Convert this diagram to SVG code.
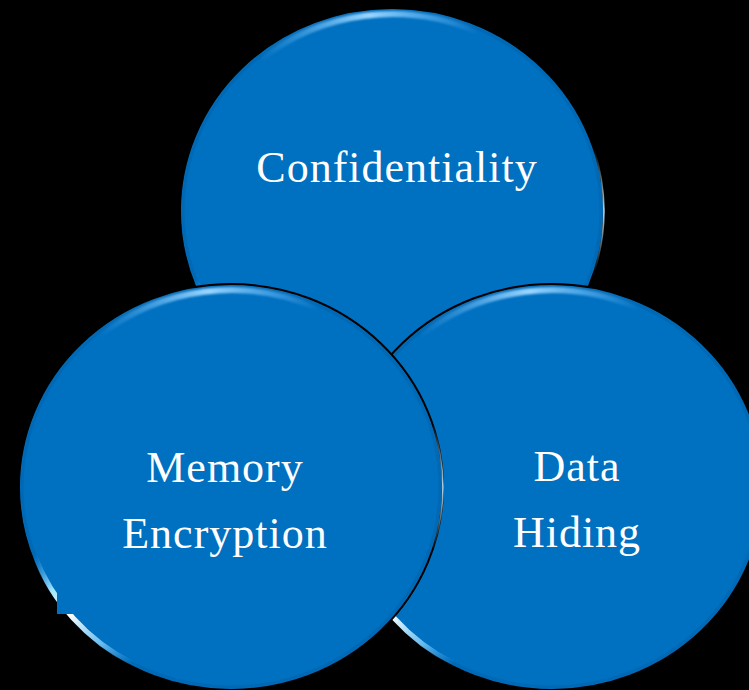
<svg xmlns="http://www.w3.org/2000/svg" width="749" height="690" viewBox="0 0 749 690">
  <style>
    .disc { fill: #0070C0; stroke: #000; stroke-width: 2; }
    .rim { fill: none; stroke: #0062aa; stroke-width: 3; opacity: 0.5; }
    .label { font-family: "Liberation Serif", "Times New Roman", serif; font-size: 44px; fill: #ffffff; text-anchor: middle; letter-spacing: 1px; }
  </style>
  <defs>
    <linearGradient id="topGlow" x1="0" y1="0" x2="1" y2="0">
      <stop offset="0" stop-color="#6fc0ff" stop-opacity="0"/>
      <stop offset="0.5" stop-color="#9ad6ff" stop-opacity="1"/>
      <stop offset="0.8" stop-color="#6fc0ff" stop-opacity="0.5"/>
      <stop offset="1" stop-color="#6fc0ff" stop-opacity="0"/>
    </linearGradient>
    <linearGradient id="glint" x1="0" y1="0" x2="1" y2="1">
      <stop offset="0" stop-color="#4ab4ff" stop-opacity="0"/>
      <stop offset="0.25" stop-color="#9fe4ff" stop-opacity="1"/>
      <stop offset="0.45" stop-color="#ffffff" stop-opacity="1"/>
      <stop offset="0.75" stop-color="#7fd0ff" stop-opacity="0.8"/>
      <stop offset="1" stop-color="#4ab4ff" stop-opacity="0"/>
    </linearGradient>
    <linearGradient id="sideGlow" x1="0" y1="0" x2="0" y2="1">
      <stop offset="0" stop-color="#cfefff" stop-opacity="0"/>
      <stop offset="0.5" stop-color="#cfefff" stop-opacity="0.9"/>
      <stop offset="1" stop-color="#cfefff" stop-opacity="0"/>
    </linearGradient>
    <filter id="soft" x="-20%" y="-20%" width="140%" height="140%">
      <feGaussianBlur stdDeviation="1.2"/>
    </filter>
    <filter id="softer" x="-20%" y="-20%" width="140%" height="140%">
      <feGaussianBlur stdDeviation="0.5"/>
    </filter>
    <g id="bubble">
      <ellipse class="disc" cx="0" cy="0" rx="212" ry="203"/>
      <ellipse class="rim" cx="0" cy="0" rx="209" ry="200"/>
      <path d="M -132.4 -150.9 A 206 197 0 0 1 87.1 -178.5" fill="none" stroke="url(#topGlow)" stroke-width="6" filter="url(#soft)"/>
      <path d="M -196.4 68.4 A 208.5 199.5 0 0 0 -98.1 176.6" fill="none" stroke="url(#glint)" stroke-width="5" filter="url(#softer)"/>
      <path d="M 201.6 -62.3 A 210 201 0 0 1 201.6 62.3" fill="none" stroke="url(#sideGlow)" stroke-width="1.6" filter="url(#softer)"/>
    </g>
  </defs>
  <rect x="0" y="0" width="749" height="690" fill="#000"/>

  <g id="node-confidentiality">
    <use href="#bubble" transform="translate(392,211)"/>
    <text class="label" x="397" y="182">Confidentiality</text>
  </g>

  <g id="node-data-hiding">
    <use href="#bubble" transform="translate(552,487)"/>
    <text class="label" x="577" y="481">Data</text>
    <text class="label" x="577" y="547">Hiding</text>
  </g>

  <g id="node-memory-encryption">
    <use href="#bubble" transform="translate(231,487)"/>
    <rect x="57" y="583" width="34" height="31" fill="#0070C0"/>
    <text class="label" x="225" y="482">Memory</text>
    <text class="label" x="225" y="548">Encryption</text>
  </g>
</svg>
